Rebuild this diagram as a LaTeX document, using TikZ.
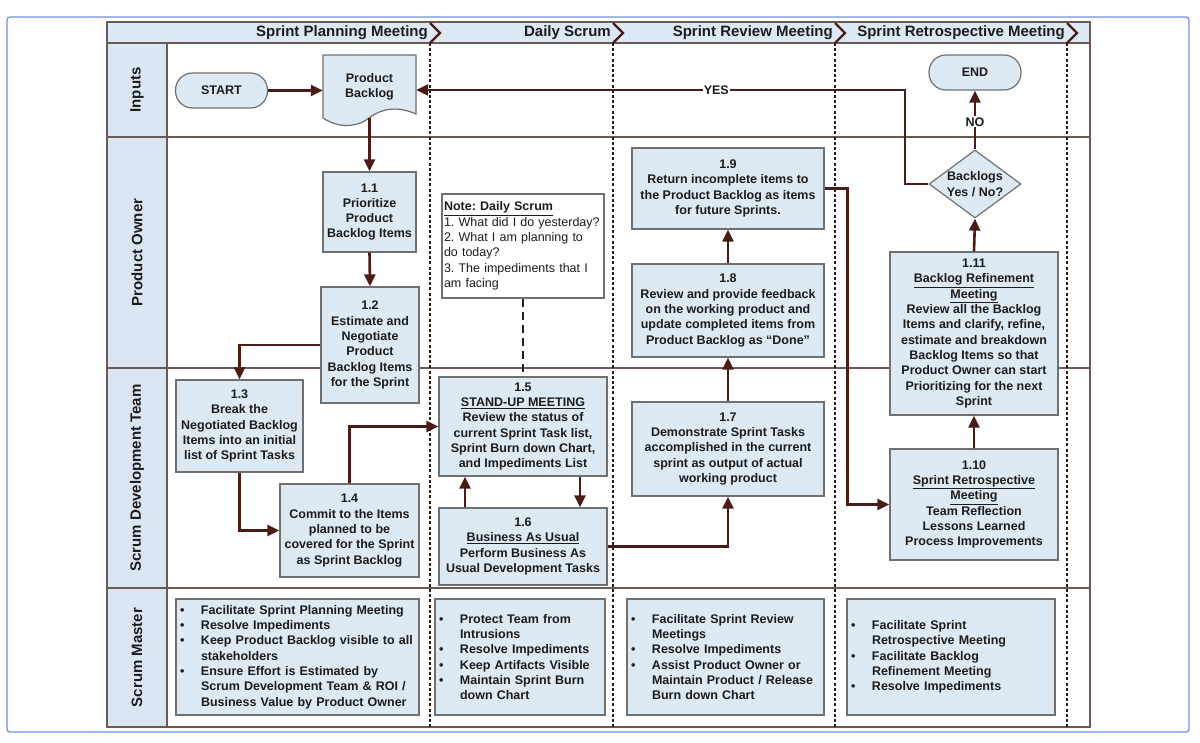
\documentclass[tikz,border=0pt]{standalone}
\usepackage{fontspec}
\setmainfont{Liberation Sans}
\frenchspacing
\usetikzlibrary{arrows.meta, shapes.geometric, calc}

\definecolor{boxfill}{HTML}{DDE9F3}
\definecolor{boxline}{HTML}{707070}
\definecolor{headfill}{HTML}{DCE8F3}
\definecolor{lanefill}{HTML}{DAE6F2}
\definecolor{laneline}{HTML}{6B5955}
\definecolor{flowc}{HTML}{4A1C17}
\definecolor{dotc}{HTML}{2E1C19}
\definecolor{framec}{HTML}{6F8FE0}
\definecolor{textc}{HTML}{1C1C1C}

\newcommand{\boxfont}{\fontsize{12.5}{15.3}\selectfont\bfseries}
\newcommand{\notefont}{\fontsize{12.5}{15.3}\selectfont}
\newcommand{\bul}[1]{\mbox{\makebox[21pt][l]{\textbullet}#1}}
\newcommand{\cont}[1]{\mbox{\hspace*{21pt}#1}}

\tikzset{
  laneline/.style={draw=laneline, line width=1.8pt},
  phasesep/.style={draw=dotc, line width=2.4pt, dash pattern=on 3pt off 2.2pt},
  chevron/.style={draw=flowc, line width=2.2pt, line join=miter},
  phase/.style={font=\fontsize{15}{18}\selectfont\bfseries, text=textc, inner sep=0pt},
  lanetitle/.style={font=\fontsize{15}{18}\selectfont\bfseries, text=textc, rotate=90},
  procbox/.style={draw=boxline, line width=1.2pt, fill=boxfill, align=center,
    inner sep=1pt, font=\boxfont, text=textc},
  terminal/.style={procbox, rounded corners=17pt, minimum width=92pt, minimum height=35pt},
  decision/.style={procbox, diamond, inner sep=-6pt, minimum width=92pt, minimum height=68pt},
  notebox/.style={draw=boxline, line width=1.2pt, fill=white, align=left, inner xsep=2pt,
    text width=158pt, minimum height=104pt, font=\notefont, text=textc},
  smbox/.style={procbox, align=left, inner xsep=4pt, minimum height=116pt},
  flow/.style={draw=flowc, line width=2.6pt, -{Triangle[length=12pt,width=11pt]}},
  flowlabel/.style={fill=white, inner sep=1pt, font=\fontsize{12.5}{15}\selectfont\bfseries, text=textc},
}

\begin{document}
\begin{tikzpicture}[x=1pt, y=-1pt]
  \useasboundingbox (0,0) rectangle (1200,742);
  \draw[line width=1.3pt, framec, rounded corners=3pt] (7,17) rectangle (1189,732);

  % swimlanes
  \fill[headfill] (107,22) rectangle (1090,43);
  \fill[lanefill] (107,43) rectangle (167,727);
  \draw[laneline] (107,22) rectangle (1090,727);
  \foreach \y in {43,137,368,588}
    \draw[laneline] (107,\y) -- (1090,\y);
  \draw[laneline] (167,43) -- (167,727);

  \foreach \x/\name in {430/Sprint Planning Meeting, 613/Daily Scrum,
      835/Sprint Review Meeting, 1067/Sprint Retrospective Meeting} {
    \draw[phasesep] (\x,43) -- (\x,727);
    \draw[chevron] (\x,23) -- (\x+10,33) -- (\x,43);
    \node[phase, anchor=east] (phase-\x) at (\x-2,33) {\name};
  }

  \node[lanetitle] (lane-in) at (137,90) {Inputs};
  \node[lanetitle] (lane-po) at (137,252.5) {Product Owner};
  \node[lanetitle] (lane-dev) at (137,478) {Scrum Development Team};
  \node[lanetitle] (lane-sm) at (137,657.5) {Scrum Master};

  % inputs
  \node[terminal] (start) at (221.5,90.5) {START};
  \node[terminal] (end) at (975,72.5) {END};
  \draw[draw=boxline, line width=1.2pt, fill=boxfill]
    (323,118) -- (323,55) -- (416,55) -- (416,114)
    .. controls (398,106) and (382,108) .. (369,118)
    .. controls (356,128) and (338,128) .. (323,118) -- cycle;
  \node[font=\boxfont, text=textc, align=center, minimum width=93pt, minimum height=63pt,
    inner sep=0pt] (pb) at (369.5,86.5) {Product\\Backlog};
  \coordinate (yesturn) at (905,90);

  % product owner
  \node[procbox, minimum width=93pt, minimum height=80pt] (p11) at (369.5,212)
    {1.1\\Prioritize\\Product\\Backlog Items};
  \node[procbox, minimum width=98pt, minimum height=116pt] (p12) at (370,345)
    {1.2\\Estimate and\\Negotiate\\Product\\Backlog Items\\for the Sprint};
  \node[notebox] (note) at (523,246)
    {\underline{\textbf{Note: Daily Scrum}}\\\mbox{1. What did I do yesterday?}\\\mbox{2. What I am planning to}\\do today?\\\mbox{3. The impediments that I}\\am facing};
  \node[procbox, minimum width=192pt, minimum height=81pt] (p19) at (728,188.5)
    {1.9\\Return incomplete items to\\the Product Backlog as items\\for future Sprints.};
  \node[procbox, minimum width=192pt, minimum height=93pt] (p18) at (728,310.5)
    {1.8\\Review and provide feedback\\on the working product and\\update completed items from\\Product Backlog as “Done”};
  \node[decision] (dec) at (975,184) {Backlogs\\Yes / No?};
  \node[procbox, minimum width=168pt, minimum height=163pt] (p111) at (974,333.5)
    {1.11\\\underline{Backlog Refinement}\\\underline{Meeting}\\Review all the Backlog\\Items and clarify, refine,\\estimate and breakdown\\Backlog Items so that\\Product Owner can start\\Prioritizing for the next\\Sprint};

  % development team
  \node[procbox, minimum width=127pt, minimum height=92pt] (p13) at (239.5,426)
    {1.3\\Break the\\Negotiated Backlog\\Items into an initial\\list of Sprint Tasks};
  \node[procbox, minimum width=139pt, minimum height=93pt] (p14) at (349.5,530.5)
    {1.4\\Commit to the Items\\planned to be\\covered for the Sprint\\as Sprint Backlog};
  \node[procbox, minimum width=168pt, minimum height=99pt] (p15) at (523,426.5)
    {1.5\\\underline{STAND-UP MEETING}\\Review the status of\\current Sprint Task list,\\Sprint Burn down Chart,\\and Impediments List};
  \node[procbox, minimum width=168pt, minimum height=77pt] (p16) at (523,546.5)
    {1.6\\\underline{Business As Usual}\\Perform Business As\\Usual Development Tasks};
  \node[procbox, minimum width=192pt, minimum height=94pt] (p17) at (728,449)
    {1.7\\Demonstrate Sprint Tasks\\accomplished in the current\\sprint as output of actual\\working product};
  \node[procbox, minimum width=168pt, minimum height=111pt] (p110) at (974,504.5)
    {1.10\\\underline{Sprint Retrospective}\\\underline{Meeting}\\Team Reflection\\Lessons Learned\\Process Improvements};

  % scrum master
  \node[smbox, text width=235pt] (sm1) at (297.5,657)
    {\bul{Facilitate Sprint Planning Meeting}\\\bul{Resolve Impediments}\\\bul{Keep Product Backlog visible to all}\\\cont{stakeholders}\\\bul{Ensure Effort is Estimated by}\\\cont{Scrum Development Team \& ROI /}\\\cont{Business Value by Product Owner}};
  \node[smbox, text width=162pt] (sm2) at (520,657)
    {\bul{Protect Team from}\\\cont{Intrusions}\\\bul{Resolve Impediments}\\\bul{Keep Artifacts Visible}\\\bul{Maintain Sprint Burn}\\\cont{down Chart}};
  \node[smbox, text width=189pt] (sm3) at (725.5,657)
    {\bul{Facilitate Sprint Review}\\\cont{Meetings}\\\bul{Resolve Impediments}\\\bul{Assist Product Owner or}\\\cont{Maintain Product / Release}\\\cont{Burn down Chart}};
  \node[smbox, text width=200pt] (sm4) at (951,657)
    {\bul{Facilitate Sprint}\\\cont{Retrospective Meeting}\\\bul{Facilitate Backlog}\\\cont{Refinement Meeting}\\\bul{Resolve Impediments}};

  % connectors
  \draw[flow] (start.east) -- (start.east -| pb.west);
  \draw[flow] (dec.west) -| (yesturn) -- (yesturn -| pb.east)
    node[flowlabel, pos=0.386] {YES};
  \draw[flow] (dec.north) -- (end.south) node[flowlabel, pos=0.47] {NO};
  \draw[flow] (pb.south) -- (p11.north);
  \draw[flow] (p11.south) -- (p12.north);
  \draw[flow] (p12.west) -| (p13.north);
  \draw[flow] (p13.south) |- (p14.west);
  \draw[flow] (p14.north) |- (p15.west);
  \draw[flow] ([xshift=-58pt]p16.north) -- ([xshift=-58pt]p15.south);
  \draw[flow] ([xshift=57pt]p15.south) -- ([xshift=57pt]p16.north);
  \draw[draw=dotc, line width=1.2pt, dash pattern=on 8pt off 5pt] (note.south) -- (p15.north);
  \draw[flow] (p16.east) -| (p17.south);
  \draw[flow] (p17.north) -- (p18.south);
  \draw[flow] (p18.north) -- (p19.south);
  \draw[flow] (p19.east) -- ++(23,0) |- (p110.west);
  \draw[flow] (p110.north) -- (p111.south);
  \draw[flow] (p111.north) -- (dec.south);
\end{tikzpicture}
\end{document}
